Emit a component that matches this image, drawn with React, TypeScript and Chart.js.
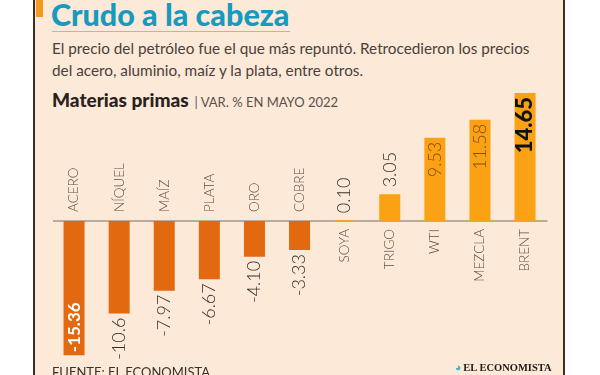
import React, { useEffect, useRef } from "react";
import { Chart, registerables } from "chart.js";
Chart.register(...registerables);

const categories = ["ACERO", "NÍQUEL", "MAÍZ", "PLATA", "ORO", "COBRE", "SOYA", "TRIGO", "WTI", "MEZCLA", "BRENT"];
const values = [-15.36, -10.6, -7.97, -6.67, -4.1, -3.33, 0.1, 3.05, 9.53, 11.58, 14.65];
const valueLabels = ["-15.36", "-10.6", "-7.97", "-6.67", "-4.10", "-3.33", "0.10", "3.05", "9.53", "11.58", "14.65"];
const insideCategories = ["ACERO", "WTI", "MEZCLA", "BRENT"];
const yMin = -16;
const yMax = 16;

const title = "Crudo a la cabeza";
const subtitleLines = [
  "El precio del petróleo fue el que más repuntó. Retrocedieron los precios",
  "del acero, aluminio, maíz y la plata, entre otros.",
];
const chartTitle = "Materias primas";
const chartUnit = "VAR. % EN MAYO 2022";
const source = "FUENTE: EL ECONOMISTA";
const brand = "EL ECONOMISTA";

const NEG = "#e2690f";
const POS = "#fba214";
const FONT = "Lato, 'Open Sans', sans-serif";

const labelPlugin = {
  id: "labelPlugin",
  beforeDatasetsDraw(chart: any) {
    const { ctx, chartArea, scales } = chart;
    const y0 = scales.y.getPixelForValue(0);
    ctx.save();
    ctx.strokeStyle = "#a3968c";
    ctx.lineWidth = 1.5;
    ctx.beginPath();
    ctx.moveTo(chartArea.left + 1.5, y0);
    ctx.lineTo(chartArea.right, y0);
    ctx.stroke();
    ctx.restore();
  },
  afterDatasetsDraw(chart: any) {
    const { ctx, scales } = chart;
    const y0 = scales.y.getPixelForValue(0);
    const meta = chart.getDatasetMeta(0);
    const maxV = Math.max(...values);
    meta.data.forEach((bar: any, i: number) => {
      const v = values[i];
      const x = bar.x;
      const inside = insideCategories.includes(categories[i]);
      // category label
      ctx.save();
      ctx.font = `300 13.5px ${FONT}`;
      ctx.fillStyle = "#5e4e45";
      ctx.textBaseline = "middle";
      if (v < 0) {
        ctx.translate(x, y0 - 9);
        ctx.rotate(-Math.PI / 2);
        ctx.textAlign = "left";
      } else {
        ctx.translate(x, y0 + 8);
        ctx.rotate(-Math.PI / 2);
        ctx.textAlign = "right";
      }
      ctx.fillText(categories[i], 0, 0);
      ctx.restore();

      // value label
      ctx.save();
      ctx.textBaseline = "middle";
      let font = `300 18px ${FONT}`;
      let color = "#3b302b";
      let ay = 0;
      let align: CanvasTextAlign = "left";
      if (v < 0) {
        if (inside) {
          font = `700 17px ${FONT}`;
          color = "#ffffff";
          ay = bar.y - 3;
          align = "left";
        } else {
          ay = bar.y + 4;
          align = "right";
        }
      } else {
        if (inside) {
          if (v === maxV) {
            font = `900 22px ${FONT}`;
            color = "#111111";
          } else {
            color = "#8a4a0e";
          }
          ay = bar.y + 4;
          align = "right";
        } else {
          ay = bar.y - 7;
          align = "left";
        }
      }
      ctx.font = font;
      ctx.fillStyle = color;
      ctx.translate(x, ay);
      ctx.rotate(-Math.PI / 2);
      ctx.textAlign = align;
      ctx.fillText(valueLabels[i], 0, 0);
      ctx.restore();
    });
  },
};

function BarChart() {
  const ref = useRef<HTMLCanvasElement | null>(null);
  useEffect(() => {
    if (!ref.current) return;
    const chart = new Chart(ref.current, {
      type: "bar",
      data: {
        labels: categories,
        datasets: [
          {
            data: values,
            backgroundColor: values.map((v) => (v < 0 ? NEG : POS)),
            borderWidth: 0,
            categoryPercentage: 1,
            barPercentage: 0.466,
          },
        ],
      },
      options: {
        responsive: false,
        animation: false,
        layout: { padding: { left: 51.5, right: 52.4, top: 81.2, bottom: 14.2 } },
        plugins: { legend: { display: false }, tooltip: { enabled: false } },
        scales: {
          x: { display: false, offset: true },
          y: { display: false, min: yMin, max: yMax },
        },
      },
      plugins: [labelPlugin],
    });
    return () => chart.destroy();
  }, []);
  return (
    <canvas
      ref={ref}
      width={600}
      height={375}
      style={{ position: "absolute", left: 0, top: 0, width: 600, height: 375 }}
    />
  );
}

export default function App() {
  return (
    <div
      style={{
        position: "fixed",
        left: 0,
        top: 0,
        width: 600,
        height: 375,
        background: "#ffffff",
        overflow: "hidden",
        fontFamily: FONT,
      }}
    >
      <div style={{ position: "absolute", left: 35, top: 0, width: 528, height: 375, background: "#fde9d8" }} />
      <div style={{ position: "absolute", left: 33, top: 0, width: 2, height: 375, background: "#3d2c22" }} />
      <div style={{ position: "absolute", left: 563, top: 0, width: 2, height: 375, background: "#3d2c22" }} />
      <div style={{ position: "absolute", left: 36, top: 0, width: 7, height: 17, background: "#f39a1e" }} />
      <div
        style={{
          position: "absolute",
          left: 51,
          top: -6,
          fontSize: 30.5,
          fontWeight: 900,
          color: "#169bbf",
          whiteSpace: "nowrap",
          lineHeight: "40px",
        }}
      >
        {title}
      </div>
      <div style={{ position: "absolute", left: 52, top: 31, width: 238, height: 1, background: "#8cc6d3" }} />
      <div
        style={{
          position: "absolute",
          left: 52,
          top: 37,
          fontSize: 15.3,
          color: "#4a403c",
          lineHeight: "22px",
          whiteSpace: "nowrap",
        }}
      >
        {subtitleLines.map((l, i) => (
          <div key={i}>{l}</div>
        ))}
      </div>
      <div style={{ position: "absolute", left: 52, top: 88, whiteSpace: "nowrap", lineHeight: "24px" }}>
        <span style={{ fontSize: 19, fontWeight: 900, color: "#2a211d" }}>{chartTitle}</span>
        <span style={{ fontSize: 13, color: "#5a504b", marginLeft: 6 }}>| {chartUnit}</span>
      </div>
      <BarChart />
      <div style={{ position: "absolute", left: 52, top: 364, fontSize: 13, color: "#3a302b", whiteSpace: "nowrap" }}>
        {source}
      </div>
      <div
        style={{
          position: "absolute",
          left: 455,
          top: 362,
          fontSize: 10.5,
          fontWeight: 700,
          color: "#1e1a18",
          fontFamily: "'Liberation Serif', serif",
          whiteSpace: "nowrap",
        }}
      >
        <span style={{ color: "#3fb1c9", marginRight: 2 }}>◕</span>
        {brand}
      </div>
    </div>
  );
}
